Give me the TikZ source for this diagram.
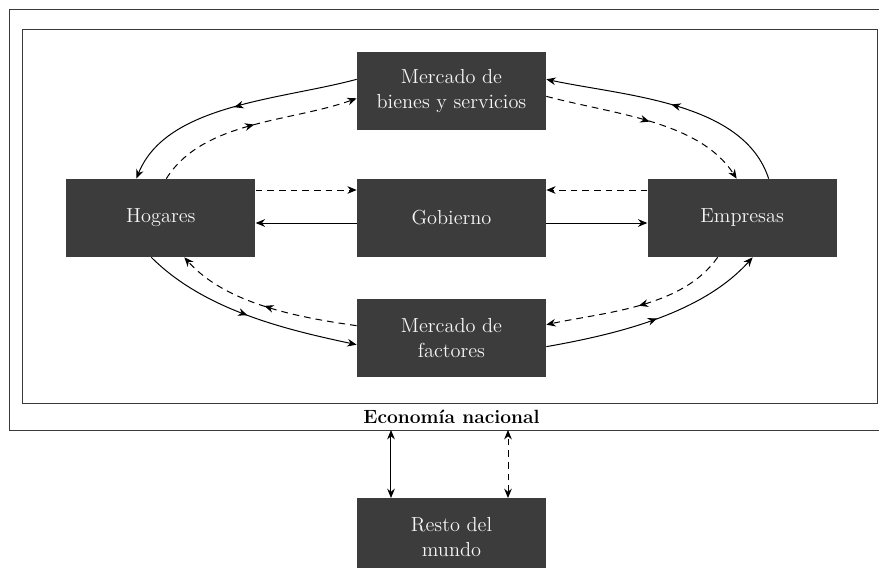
\documentclass[tikz,border=0pt]{standalone}
\usetikzlibrary{positioning, arrows.meta, decorations.markings}
\definecolor{boxfill}{HTML}{3C3C3C}
\definecolor{boxtext}{HTML}{F6F6F6}
\definecolor{framec}{HTML}{3A3A3A}

\begin{document}
\begin{tikzpicture}
			[node distance=28.8pt and 60.6pt, looseness=.85,
			 sector/.style={rectangle, fill=boxfill, text=boxtext, minimum width=113.4pt, minimum height=46.8pt, inner sep=0pt, align=center, font=\fontsize{12.2}{15}\selectfont},
			 frame/.style={draw=framec, line width=.6pt},
			 tip/.style={-{Stealth[length=5.6pt,width=4.6pt]}},
			 line/.style={line width=.6pt, tip},
			 dline/.style={line, dash pattern=on 4pt off 3pt},
			 flow/.style={line, postaction={decorate},
				decoration={markings, mark=at position .5 with {\arrow{Stealth[length=5.6pt,width=4.6pt]}}}},
			 money/.style={flow, dash pattern=on 4pt off 3pt},
			 link/.style={line width=.6pt, {Stealth[length=5.6pt,width=4.6pt]}-{Stealth[length=5.6pt,width=4.6pt]}}]
			\useasboundingbox (-270.9pt,-209.4pt) rectangle (256.5pt,130.8pt);

			% frames %
			\draw[frame] (262pt,124.8pt) -- (-265.2pt,124.8pt) -- (-265.2pt,-127.2pt) -- (262pt,-127.2pt);
			\draw[frame] (-257.1pt,112.8pt) rectangle (255.3pt,-111pt);
			\node[font=\bfseries\fontsize{11.5}{14}\selectfont] (nac) at (0,-119.4pt) {Economía nacional};
			\coordinate (econ) at (0,-127.2pt);

			% nodes %
			\node[sector] (gob) {Gobierno};
			\node[sector, left=of gob] (hog) {Hogares};
			\node[sector, right=of gob] (emp) {Empresas};
			\node[sector, above=of gob] (bien) {Mercado de\\bienes y servicios};
			\node[sector, below=24.6pt of gob] (fact) {Mercado de\\factores};
			\node[sector, below=72.6pt of fact] (resto) {Resto del\\mundo};

			% edges %
			\draw[dline] ([yshift=16.8pt]hog.east) -- ([yshift=16.8pt]gob.west);
			\draw[line] ([yshift=-3pt]gob.west) -- ([yshift=-3pt]hog.east);
			\draw[dline] ([yshift=16.8pt]emp.west) -- ([yshift=16.8pt]gob.east);
			\draw[line] ([yshift=-3pt]gob.east) -- ([yshift=-3pt]emp.west);

			\draw[flow] ([yshift=7.2pt]bien.west) to [out=195,in=68] ([xshift=-14.7pt]hog.north);
			\draw[money] ([xshift=3.3pt]hog.north) to [out=58,in=200] ([yshift=-4.2pt]bien.west);
			\draw[flow] ([xshift=15.9pt]emp.north) to [out=108,in=-12] ([yshift=7.2pt]bien.east);
			\draw[money] ([yshift=-3pt]bien.east) to [out=-15,in=123] ([xshift=-3.3pt]emp.north);

			\draw[flow] ([xshift=-5.7pt]hog.south) to [out=-45,in=168] ([yshift=-4.2pt]fact.west);
			\draw[money] ([yshift=7.2pt]fact.west) to [out=172,in=-48] ([xshift=14.1pt]hog.south);
			\draw[flow] ([yshift=-5.4pt]fact.east) to [out=10,in=-132] ([xshift=6.3pt]emp.south);
			\draw[money] ([xshift=-14.7pt]emp.south) to [out=-125,in=12] ([yshift=7.8pt]fact.east);

			\draw[link] ([xshift=-36.3pt]resto.north) -- ([xshift=-36.3pt]resto.north |- econ);
			\draw[link, dash pattern=on 4pt off 3pt] ([xshift=33.9pt]resto.north) -- ([xshift=33.9pt]resto.north |- econ);
			\end{tikzpicture}
\end{document}
